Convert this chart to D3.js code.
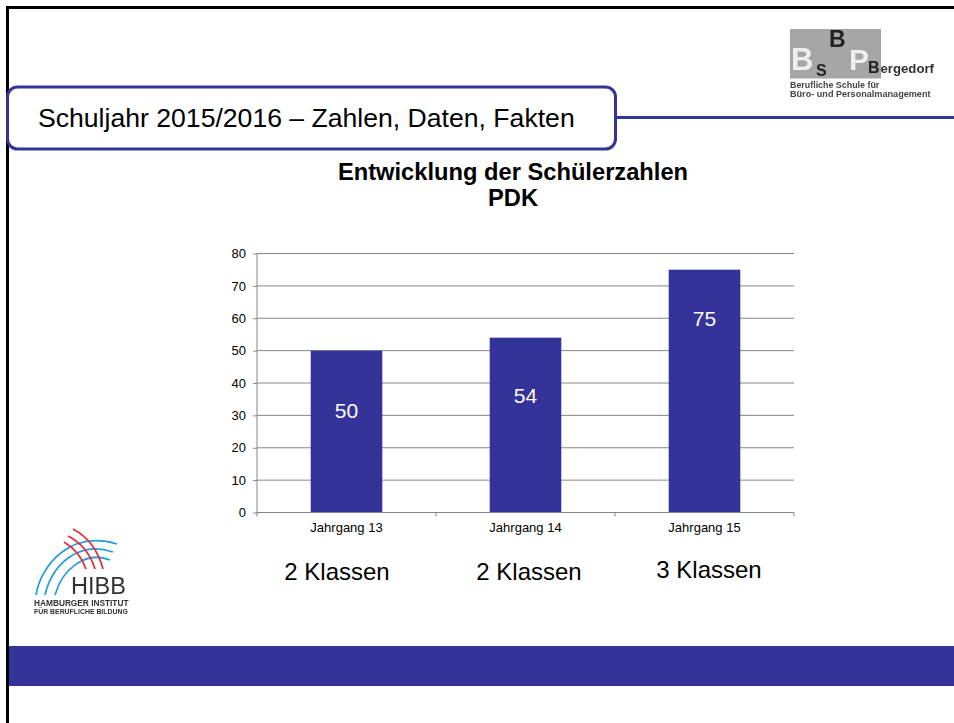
<!DOCTYPE html>
<html><head><meta charset="utf-8">
<script src="https://cdn.jsdelivr.net/npm/d3@7/dist/d3.min.js"></script>
<style>html,body{margin:0;padding:0;background:#fff}svg{display:block}text{font-family:"Liberation Sans",Arial,sans-serif}</style>
</head><body><svg id="c" width="954" height="723"></svg>
<script>
const categories = ["Jahrgang 13","Jahrgang 14","Jahrgang 15"];
const values = [50,54,75];
const classLabels = ["2 Klassen","2 Klassen","3 Klassen"];
const yTicks = [0,10,20,30,40,50,60,70,80];
const slideTitle = "Schuljahr 2015/2016 – Zahlen, Daten, Fakten";
const chartTitle = ["Entwicklung der Schülerzahlen","PDK"];

const NAVY="#333399", GRID="#868686";
const svg=d3.select("#c");
const defs=svg.append("defs");
defs.append("filter").attr("id","soft").append("feGaussianBlur").attr("stdDeviation",0.35);
// slide frame
svg.append("rect").attr("x",0).attr("y",0).attr("width",954).attr("height",723).attr("fill","#fff");
svg.append("line").attr("x1",7).attr("x2",954).attr("y1",7.5).attr("y2",7.5).attr("stroke","#000").attr("stroke-width",3);
svg.append("line").attr("x1",7.5).attr("x2",7.5).attr("y1",6).attr("y2",723).attr("stroke","#000").attr("stroke-width",3);
svg.append("rect").attr("x",9).attr("y",646).attr("width",945).attr("height",40).attr("fill",NAVY);
// heading
svg.append("line").attr("x1",615).attr("x2",954).attr("y1",117.5).attr("y2",117.5).attr("stroke",NAVY).attr("stroke-width",3);
svg.append("rect").attr("x",7.5).attr("y",87).attr("width",608).attr("height",62).attr("rx",10).attr("fill","#fff").attr("stroke",NAVY).attr("stroke-width",3);
svg.append("text").attr("x",38).attr("y",127).attr("font-size",26.6).attr("fill","#000").text(slideTitle);
// chart title
svg.selectAll(".ct").data(chartTitle).join("text").attr("class","ct").attr("x",513).attr("y",(d,i)=>180+i*26)
 .attr("text-anchor","middle").attr("font-size",23.7).attr("font-weight","bold").attr("fill","#000").text(d=>d);

// chart
const x=d3.scaleBand().domain(categories).range([257,794]).paddingInner(0.6).paddingOuter(0.3);
const y=d3.scaleLinear().domain([0,80]).range([512.5,253.5]);
const gy=svg.append("g").attr("transform","translate(257,0)")
 .call(d3.axisLeft(y).tickValues(yTicks).tickSize(4).tickPadding(7));
gy.select(".domain").attr("stroke",GRID).attr("d",`M0,${y(80)}V${y(0)}`);
gy.selectAll("line").attr("stroke",GRID);
gy.selectAll("text").attr("font-size",13).attr("fill","#000").attr("font-family",'"Liberation Sans",Arial,sans-serif');
svg.append("g").selectAll("line").data(yTicks.filter(d=>d>0)).join("line")
 .attr("x1",257).attr("x2",794).attr("y1",d=>y(d)).attr("y2",d=>y(d)).attr("stroke",GRID);
svg.selectAll(".bar").data(values).join("rect").attr("class","bar")
 .attr("x",(d,i)=>x(categories[i])).attr("width",x.bandwidth())
 .attr("y",d=>y(d)).attr("height",d=>y(0)-y(d)).attr("fill",NAVY);
const gx=svg.append("g").attr("transform",`translate(0,${y(0)})`)
 .call(d3.axisBottom(x).tickSize(0).tickPadding(10));
gx.select(".domain").attr("stroke",GRID).attr("d","M257,0H794");
gx.selectAll("text").attr("font-size",13).attr("fill","#000").attr("font-family",'"Liberation Sans",Arial,sans-serif');
svg.append("g").selectAll("line").data([257,436,615,794]).join("line")
 .attr("x1",d=>d).attr("x2",d=>d).attr("y1",y(0)).attr("y2",y(0)+4).attr("stroke",GRID);
// data labels sit at hand-placed heights in the original slide (given in axis units)
const labelAt=[31.6,36,60];
svg.selectAll(".val").data(values).join("text").attr("class","val")
 .attr("x",(d,i)=>x(categories[i])+x.bandwidth()/2).attr("y",(d,i)=>y(labelAt[i])+7.5)
 .attr("text-anchor","middle").attr("font-size",21).attr("fill","#fff").text(d=>d);
// class labels
const classX=[337,529,709];
svg.selectAll(".cl").data(classLabels).join("text").attr("class","cl")
 .attr("x",(d,i)=>classX[i]).attr("y",(d,i)=>i==2?578:580).attr("text-anchor","middle")
 .attr("font-size",24).attr("fill","#000").text(d=>d);

// BSP logo
const lg=svg.append("g").attr("filter","url(#soft)");
lg.append("rect").attr("x",790).attr("y",29).attr("width",91).attr("height",49.5).attr("fill","#a6a6a6");
const t=(s,xx,yy,fs,col,w)=>lg.append("text").attr("x",xx).attr("y",yy).attr("font-size",fs).attr("font-weight",w||"bold").attr("fill",col).text(s);
t("B",791,69.5,31,"#efefef");
t("S",816,76,16,"#222");
t("B",829,47,23,"#222");
t("P",849,70,30,"#efefef");
t("B",868,72.5,16,"#222");
t("ergedorf",880.5,72.5,13.2,"#333");
t("Berufliche Schule für",790,87.5,8.9,"#444");
t("Büro- und Personalmanagement",790,96.8,9.1,"#444");

// HIBB logo
const h=svg.append("g").attr("fill","none").attr("filter","url(#soft)");
const arcs=(list,col)=>h.selectAll(null).data(list).join("path").attr("d",d=>d).attr("stroke",col).attr("stroke-width",1.8);
arcs(["M36,595C41,565 70,530 117,544","M45,595C52,565 78,540 113,552","M55,595C62,570 85,550 110,560"],"#2a9fd6");
arcs(["M73,529C88,537 98,550 103,569","M68,536C80,542 90,553 95,569","M64,542C74,548 82,557 86,569"],"#e0303c");
const ht=(s,xx,yy,fs,w)=>h.append("text").attr("x",xx).attr("y",yy).attr("font-size",fs).attr("font-weight",w).attr("fill","#333").text(s);
ht("HIBB",71,594,23.5,"normal");
ht("HAMBURGER INSTITUT",34,606,8.3,"bold");
ht("FÜR BERUFLICHE BILDUNG",34,613.5,6.9,"bold");
</script></body></html>
